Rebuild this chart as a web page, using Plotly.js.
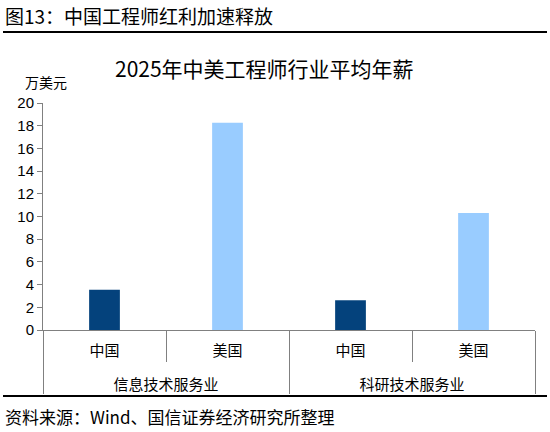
<!DOCTYPE html>
<html>
<head>
<meta charset="utf-8">
<script src="https://cdn.plot.ly/plotly-3.0.1.min.js"></script>
<style>html,body{margin:0;padding:0;background:#fff;}#chart{width:550px;height:432px;}</style>
</head>
<body>
<div id="chart"></div>
<script>
const industries = ['信息技术服务业', '信息技术服务业', '科研技术服务业', '科研技术服务业'];
const countries = ['中国', '美国', '中国', '美国'];
const salary = [3.55, 18.25, 2.62, 10.3];
const yTicks = [0, 2, 4, 6, 8, 10, 12, 14, 16, 18, 20];

const countryColor = {'中国': '#04427C', '美国': '#99CCFF'};
const cjk = '"Noto Sans CJK SC", "Noto Sans", sans-serif';
const num = '"Liberation Sans", Arial, sans-serif';

// blank second line under the inner labels: deepens the first label row
// so that the industry row and the dividers sit lower, as in the reference
const rowFiller = '<br><span style="font-size:8px">&nbsp;</span>';
const innerLabels = countries.map(c => c + rowFiller);

const trace = {
  type: 'bar',
  x: [industries, innerLabels],
  y: salary,
  marker: {color: countries.map(c => countryColor[c]), line: {width: 0}},
  width: 0.25,
  hoverinfo: 'y'
};

const L = 43, R = 535, T = 103, B = 330;
const px = v => (v - L) / (R - L);
const py = v => (B - v) / (B - T);

const layout = {
  width: 550, height: 432,
  margin: {l: L, r: 550 - R, t: T, b: 432 - B},
  paper_bgcolor: '#fff', plot_bgcolor: '#fff',
  showlegend: false,
  xaxis: {
    type: 'multicategory',
    showline: true, linecolor: '#808080', linewidth: 1,
    showdividers: true, dividercolor: '#808080', dividerwidth: 1,
    tickson: 'boundaries', ticks: 'outside', ticklen: 31, tickcolor: '#808080', tickwidth: 1,
    ticklabelstandoff: 7,
    tickfont: {family: cjk, size: 15, color: '#000'},
    showgrid: false, zeroline: false
  },
  yaxis: {
    range: [0, 20], tickvals: yTicks, ticktext: yTicks.map(String),
    showline: true, linecolor: '#808080', linewidth: 1,
    ticks: 'outside', ticklen: 5, tickcolor: '#808080',
    tickfont: {family: num, size: 15, color: '#000'},
    showgrid: false, zeroline: false, fixedrange: true
  },
  shapes: [
    {type: 'line', xref: 'paper', yref: 'paper', x0: px(3), x1: px(547), y0: py(32), y1: py(32), line: {color: '#000', width: 2}},
    {type: 'line', xref: 'paper', yref: 'paper', x0: px(3), x1: px(547), y0: py(396), y1: py(396), line: {color: '#000', width: 2}}
  ],
  annotations: [
    {xref: 'paper', yref: 'paper', x: px(3), y: py(15), xanchor: 'left', yanchor: 'middle', showarrow: false,
     text: '图13：中国工程师红利加速释放', font: {family: cjk, size: 19, color: '#000'}},
    {xref: 'paper', yref: 'paper', x: px(264), y: py(68), xanchor: 'center', yanchor: 'middle', showarrow: false,
     text: '2025年中美工程师行业平均年薪', font: {family: cjk, size: 21, color: '#000'}},
    {xref: 'paper', yref: 'paper', x: px(23), y: py(94), xanchor: 'left', yanchor: 'bottom', showarrow: false,
     text: '万美元', font: {family: cjk, size: 14, color: '#000'}},
    {xref: 'paper', yref: 'paper', x: px(3), y: py(416), xanchor: 'left', yanchor: 'middle', showarrow: false,
     text: '资料来源：Wind、国信证券经济研究所整理', font: {family: cjk, size: 17, color: '#000'}}
  ]
};

Plotly.newPlot('chart', [trace], layout, {staticPlot: true, displayModeBar: false});
</script>
</body>
</html>
